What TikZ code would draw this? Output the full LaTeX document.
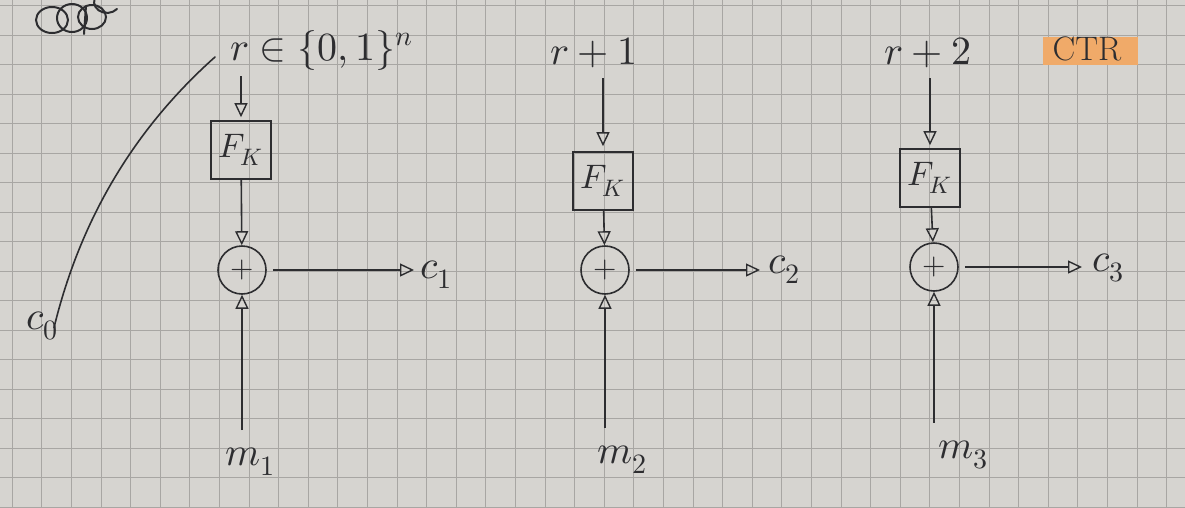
\documentclass[tikz,border=0pt]{standalone}
\usepackage{unicode-math}
\setmathfont{Latin Modern Math}
\usetikzlibrary{arrows.meta}
\definecolor{paper}{RGB}{214,212,208}
\definecolor{gridc}{RGB}{168,166,163}
\definecolor{ink}{RGB}{45,45,48}
\definecolor{hl}{RGB}{240,170,105}
\begin{document}
\begin{tikzpicture}[x=1pt,y=-1pt,
  lbl/.style={font=\fontsize{40}{44}\selectfont, inner sep=0pt, text=ink},
  fbox/.style={draw=ink, line width=1.6pt, minimum width=60pt, minimum height=58pt, inner sep=0pt, font=\fontsize{34}{38}\selectfont, text=ink},
  xorc/.style={draw=ink, circle, line width=1.6pt, minimum size=48pt, inner sep=0pt, font=\fontsize{30}{32}\selectfont, text=ink},
  arr/.style={draw=ink, line width=1.6pt, -{Triangle[open, length=14pt, width=13pt, line width=1.4pt]}},
  pen/.style={draw=ink, line width=1.6pt, line cap=round}]
\useasboundingbox (0,0) rectangle (1185,507);
\fill[paper] (0,0) rectangle (1185,507);
\foreach \gx in {0,...,39} {\pgfmathsetmacro{\vx}{12.2+29.6*\gx}\draw[gridc, line width=0.8pt] (\vx,0) -- (\vx,507);}
\foreach \gy in {0,...,17} {\pgfmathsetmacro{\vy}{5.5+29.5*\gy}\draw[gridc, line width=0.8pt] (0,\vy) -- (1185,\vy);}

% scribbled-out word
\draw[pen, line width=2pt] (52,20) ellipse [x radius=16, y radius=13];
\draw[pen, line width=2pt] (72,18) ellipse [x radius=15, y radius=14];
\draw[pen, line width=2pt] (92,17) ellipse [x radius=14, y radius=12];
\draw[pen, line width=2pt] (117,9) arc[start angle=40, end angle=310, x radius=13, y radius=11];
\draw[pen, line width=2pt] (86,6) -- (84,34);

% CTR label
\fill[hl] (1043,37) rectangle (1138,65);
\node[lbl, font=\fontsize{34}{38}\selectfont] (ctr) at (1087,49) {CTR};

% inputs
\node[lbl, anchor=west] (r1) at (230,50) {$r\in\{0,1\}^{n}$};
\node[lbl] (r2) at (594,53) {$r+1$};
\node[lbl] (r3) at (928,53) {$r+2$};

% blocks
\node[fbox] (f1) at (241,150) {$F_K$};
\node[fbox] (f2) at (603,181) {$F_K$};
\node[fbox] (f3) at (930,178) {$F_K$};

\node[xorc] (x1) at (242,270) {$+$};
\node[xorc] (x2) at (605,270) {$+$};
\node[xorc] (x3) at (934,267) {$+$};

\node[lbl, anchor=west] (c1) at (420,275) {$c_1$};
\node[lbl, anchor=west] (c2) at (768,270) {$c_2$};
\node[lbl, anchor=west] (c3) at (1092,268) {$c_3$};

\node[lbl] (m1) at (250,462) {$m_1$};
\node[lbl] (m2) at (622,460) {$m_2$};
\node[lbl] (m3) at (963,455) {$m_3$};

\node[lbl] (c0) at (42,326) {$c_0$};

% connectors
\draw[arr, shorten <=6pt, shorten >=3pt] (f1.north |- r1.south) -- (f1.north);
\draw[arr, shorten <=10pt, shorten >=5pt] (f2.north |- r2.south) -- (f2.north);
\draw[arr, shorten <=10pt, shorten >=3pt] (f3.north |- r3.south) -- (f3.north);

\draw[arr] (f1) -- (x1);
\draw[arr] (f2) -- (x2);
\draw[arr] (f3) -- (x3);

\draw[arr, shorten <=6pt, shorten >=6pt] (x1.east) -- (x1.east -| c1.west);
\draw[arr, shorten <=6pt, shorten >=8pt] (x2.east) -- (x2.east -| c2.west);
\draw[arr, shorten <=6pt, shorten >=10pt] (x3.east) -- (x3.east -| c3.west);

\draw[arr, shorten <=18pt] (x1.south |- m1.north) -- (x1.south);
\draw[arr, shorten <=18pt] (x2.south |- m2.north) -- (x2.south);
\draw[arr, shorten <=18pt] (x3.south |- m3.north) -- (x3.south);

% IV line
\coordinate (ivs) at (215,57);
\draw[pen] (ivs) .. controls (150,115) and (85,200) .. ([xshift=12pt, yshift=-16pt]c0.north);
\end{tikzpicture}
\end{document}
